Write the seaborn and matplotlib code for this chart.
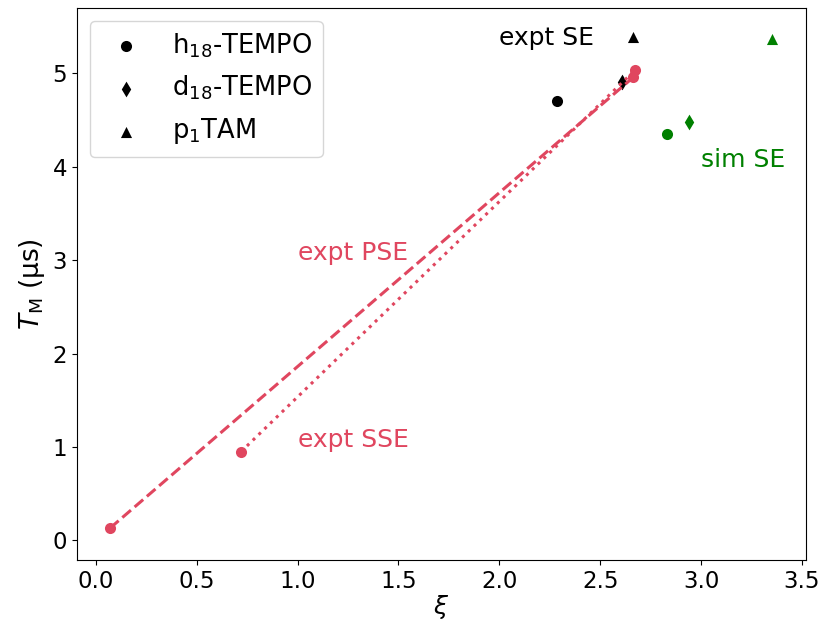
import matplotlib
matplotlib.use("Agg")
import matplotlib.pyplot as plt
import seaborn as sns
import pandas as pd

# Phase-memory times versus spectral-diffusion parameter xi
compounds = ["h$_{18}$-TEMPO", "d$_{18}$-TEMPO", "p$_1$TAM"]
compound_markers = ["o", "d", "^"]

# experimental spin-echo values (black)
expt_se_xi = [2.284, 2.607, 2.665]
expt_se_tm = [4.70, 4.91, 5.39]

# simulated spin-echo values (green)
sim_se_xi = [2.83, 2.94, 3.35]
sim_se_tm = [4.35, 4.48, 5.37]

# pulsed / stepped spin-echo endpoints (red)
pse_xi = [0.07, 2.665]
pse_tm = [0.13, 4.96]
sse_xi = [0.72, 2.675]
sse_tm = [0.95, 5.04]

red = "#e0465f"
green = "#008000"

sns.set_style("ticks")
plt.rcParams["font.family"] = ["DejaVu Sans"]
plt.rcParams["mathtext.fontset"] = "dejavusans"
for key in ["text.color", "axes.labelcolor", "xtick.color", "ytick.color",
            "axes.edgecolor"]:
    plt.rcParams[key] = "black"

fig, ax = plt.subplots(figsize=(8.19, 6.2), dpi=100)
fig.subplots_adjust(left=0.094, right=0.984, top=0.987, bottom=0.097)

pse = pd.DataFrame({"xi": pse_xi, "tm": pse_tm})
sse = pd.DataFrame({"xi": sse_xi, "tm": sse_tm})
sns.lineplot(data=pse, x="xi", y="tm", ax=ax, color=red, linestyle="--",
             linewidth=2.2, marker="o", markersize=8, markeredgewidth=0)
sns.lineplot(data=sse, x="xi", y="tm", ax=ax, color=red, linestyle=":",
             linewidth=2.2, marker="o", markersize=8, markeredgewidth=0)

for name, mk, x, y in zip(compounds, compound_markers, expt_se_xi, expt_se_tm):
    sns.scatterplot(x=[x], y=[y], ax=ax, color="black", marker=mk, s=64,
                    linewidth=0, label=name)
for mk, x, y in zip(compound_markers, sim_se_xi, sim_se_tm):
    sns.scatterplot(x=[x], y=[y], ax=ax, color=green, marker=mk, s=64,
                    linewidth=0)

ax.text(2.0, 5.30, "expt SE", color="black", fontsize=18)
ax.text(3.0, 4.00, "sim SE", color=green, fontsize=18)
ax.text(1.0, 3.00, "expt PSE", color=red, fontsize=18)
ax.text(1.0, 1.00, "expt SSE", color=red, fontsize=18)

ax.set_xlim(-0.094, 3.52)
ax.set_ylim(-0.21, 5.70)
ax.set_xticks([0.0, 0.5, 1.0, 1.5, 2.0, 2.5, 3.0, 3.5])
ax.set_yticks([0, 1, 2, 3, 4, 5])
ax.tick_params(labelsize=16.5)
ax.set_xlabel(r"$\xi$", fontsize=18, labelpad=0)
ax.set_ylabel(r"$T_{\mathrm{M}}$ (µs)", fontsize=19)

ax.legend(loc="upper left", fontsize=18.5, scatterpoints=1, labelspacing=0.55)

fig.savefig("out.png", dpi=100)
